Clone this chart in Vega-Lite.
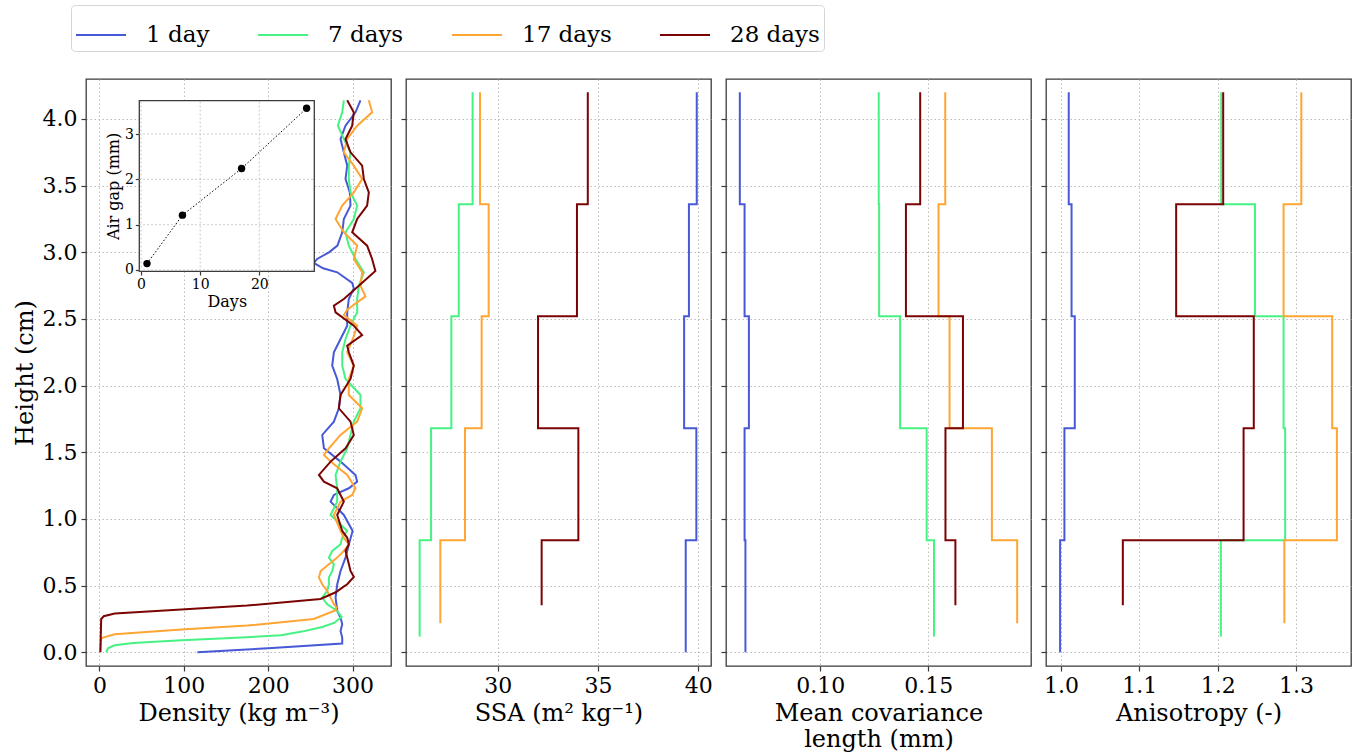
{
  "$schema": "https://vega.github.io/schema/vega-lite/v6.json",
  "padding": {"left": 12, "top": 4, "right": 5, "bottom": 0},
  "background": "white",
  "bounds": "flush",
  "spacing": 15,
  "datasets": {
    "dens": [
      {"s": "1 day", "h": 0, "v": 116}, {"s": "1 day", "h": 0.03, "v": 200}, {"s": "1 day", "h": 0.065, "v": 287.7}, {"s": "1 day", "h": 0.11, "v": 287.7},
      {"s": "1 day", "h": 0.16, "v": 285.7}, {"s": "1 day", "h": 0.21, "v": 287.7}, {"s": "1 day", "h": 0.26, "v": 285.7}, {"s": "1 day", "h": 0.31, "v": 281.8},
      {"s": "1 day", "h": 0.41, "v": 279.8}, {"s": "1 day", "h": 0.51, "v": 281.8}, {"s": "1 day", "h": 0.61, "v": 285.7}, {"s": "1 day", "h": 0.71, "v": 291.6},
      {"s": "1 day", "h": 0.81, "v": 295.6}, {"s": "1 day", "h": 0.91, "v": 300}, {"s": "1 day", "h": 1.03, "v": 289.6}, {"s": "1 day", "h": 1.13, "v": 273.9},
      {"s": "1 day", "h": 1.18, "v": 277.8}, {"s": "1 day", "h": 1.23, "v": 295.5}, {"s": "1 day", "h": 1.28, "v": 305.4}, {"s": "1 day", "h": 1.33, "v": 303.4},
      {"s": "1 day", "h": 1.43, "v": 285.7}, {"s": "1 day", "h": 1.53, "v": 266}, {"s": "1 day", "h": 1.63, "v": 264}, {"s": "1 day", "h": 1.73, "v": 277.8},
      {"s": "1 day", "h": 1.83, "v": 283.7}, {"s": "1 day", "h": 1.93, "v": 285.7}, {"s": "1 day", "h": 2.05, "v": 281.7}, {"s": "1 day", "h": 2.15, "v": 275.8},
      {"s": "1 day", "h": 2.25, "v": 277.8}, {"s": "1 day", "h": 2.35, "v": 285.7}, {"s": "1 day", "h": 2.45, "v": 293.6}, {"s": "1 day", "h": 2.55, "v": 293.6},
      {"s": "1 day", "h": 2.65, "v": 295.5}, {"s": "1 day", "h": 2.73, "v": 301.4}, {"s": "1 day", "h": 2.77, "v": 299.5}, {"s": "1 day", "h": 2.85, "v": 281.8},
      {"s": "1 day", "h": 2.88, "v": 265}, {"s": "1 day", "h": 2.92, "v": 254}, {"s": "1 day", "h": 2.95, "v": 258}, {"s": "1 day", "h": 3.0, "v": 272},
      {"s": "1 day", "h": 3.05, "v": 282}, {"s": "1 day", "h": 3.15, "v": 287.7}, {"s": "1 day", "h": 3.25, "v": 289.6}, {"s": "1 day", "h": 3.35, "v": 297.5},
      {"s": "1 day", "h": 3.45, "v": 296.7}, {"s": "1 day", "h": 3.55, "v": 291.6}, {"s": "1 day", "h": 3.65, "v": 293.6}, {"s": "1 day", "h": 3.75, "v": 289.6},
      {"s": "1 day", "h": 3.85, "v": 285.7}, {"s": "1 day", "h": 3.95, "v": 291.6}, {"s": "1 day", "h": 4.05, "v": 303.4}, {"s": "1 day", "h": 4.14, "v": 309.3},

      {"s": "7 days", "h": 0, "v": 8}, {"s": "7 days", "h": 0.03, "v": 10}, {"s": "7 days", "h": 0.0525, "v": 18}, {"s": "7 days", "h": 0.07, "v": 40},
      {"s": "7 days", "h": 0.09, "v": 97}, {"s": "7 days", "h": 0.105, "v": 150}, {"s": "7 days", "h": 0.127, "v": 215}, {"s": "7 days", "h": 0.155, "v": 240},
      {"s": "7 days", "h": 0.19, "v": 264}, {"s": "7 days", "h": 0.22, "v": 278}, {"s": "7 days", "h": 0.265, "v": 287}, {"s": "7 days", "h": 0.31, "v": 281.8},
      {"s": "7 days", "h": 0.36, "v": 269.9}, {"s": "7 days", "h": 0.41, "v": 264}, {"s": "7 days", "h": 0.46, "v": 269.9}, {"s": "7 days", "h": 0.51, "v": 271.9},
      {"s": "7 days", "h": 0.56, "v": 271.9}, {"s": "7 days", "h": 0.61, "v": 275.9}, {"s": "7 days", "h": 0.66, "v": 277.8}, {"s": "7 days", "h": 0.71, "v": 271.9},
      {"s": "7 days", "h": 0.76, "v": 275.9}, {"s": "7 days", "h": 0.81, "v": 285.7}, {"s": "7 days", "h": 0.86, "v": 287.7}, {"s": "7 days", "h": 0.91, "v": 293.6},
      {"s": "7 days", "h": 1.03, "v": 273.9}, {"s": "7 days", "h": 1.13, "v": 281.7}, {"s": "7 days", "h": 1.23, "v": 281.7}, {"s": "7 days", "h": 1.33, "v": 279.8},
      {"s": "7 days", "h": 1.43, "v": 285.7}, {"s": "7 days", "h": 1.53, "v": 293.6}, {"s": "7 days", "h": 1.63, "v": 297.5}, {"s": "7 days", "h": 1.73, "v": 301.4},
      {"s": "7 days", "h": 1.83, "v": 309.3}, {"s": "7 days", "h": 1.93, "v": 309.3}, {"s": "7 days", "h": 2.05, "v": 291.6}, {"s": "7 days", "h": 2.15, "v": 287.7},
      {"s": "7 days", "h": 2.25, "v": 287.7}, {"s": "7 days", "h": 2.35, "v": 291.6}, {"s": "7 days", "h": 2.45, "v": 297.5}, {"s": "7 days", "h": 2.55, "v": 305.4},
      {"s": "7 days", "h": 2.65, "v": 305.4}, {"s": "7 days", "h": 2.75, "v": 307.4}, {"s": "7 days", "h": 2.85, "v": 313.3}, {"s": "7 days", "h": 2.95, "v": 303.4},
      {"s": "7 days", "h": 3.05, "v": 295.5}, {"s": "7 days", "h": 3.15, "v": 291.6}, {"s": "7 days", "h": 3.25, "v": 301.4}, {"s": "7 days", "h": 3.35, "v": 305.4},
      {"s": "7 days", "h": 3.45, "v": 297.5}, {"s": "7 days", "h": 3.55, "v": 295.5}, {"s": "7 days", "h": 3.65, "v": 295.5}, {"s": "7 days", "h": 3.75, "v": 297.5},
      {"s": "7 days", "h": 3.85, "v": 289.6}, {"s": "7 days", "h": 3.95, "v": 282.5}, {"s": "7 days", "h": 4.05, "v": 287.7}, {"s": "7 days", "h": 4.14, "v": 289.6},

      {"s": "17 days", "h": 0, "v": 1}, {"s": "17 days", "h": 0.1, "v": 2}, {"s": "17 days", "h": 0.11, "v": 4}, {"s": "17 days", "h": 0.135, "v": 18},
      {"s": "17 days", "h": 0.17, "v": 97}, {"s": "17 days", "h": 0.2, "v": 175}, {"s": "17 days", "h": 0.25, "v": 254}, {"s": "17 days", "h": 0.315, "v": 280},
      {"s": "17 days", "h": 0.34, "v": 280.6}, {"s": "17 days", "h": 0.36, "v": 277.8}, {"s": "17 days", "h": 0.41, "v": 273.9}, {"s": "17 days", "h": 0.46, "v": 269.9},
      {"s": "17 days", "h": 0.51, "v": 264}, {"s": "17 days", "h": 0.56, "v": 260.1}, {"s": "17 days", "h": 0.61, "v": 262.1}, {"s": "17 days", "h": 0.66, "v": 271.9},
      {"s": "17 days", "h": 0.71, "v": 281.8}, {"s": "17 days", "h": 0.76, "v": 289.6}, {"s": "17 days", "h": 0.81, "v": 295.6}, {"s": "17 days", "h": 0.86, "v": 289.6},
      {"s": "17 days", "h": 0.91, "v": 285.7}, {"s": "17 days", "h": 1.03, "v": 277.8}, {"s": "17 days", "h": 1.13, "v": 285.7}, {"s": "17 days", "h": 1.18, "v": 299.5},
      {"s": "17 days", "h": 1.23, "v": 303.4}, {"s": "17 days", "h": 1.33, "v": 293.6}, {"s": "17 days", "h": 1.43, "v": 273.9}, {"s": "17 days", "h": 1.48, "v": 266},
      {"s": "17 days", "h": 1.53, "v": 271.9}, {"s": "17 days", "h": 1.63, "v": 285.7}, {"s": "17 days", "h": 1.73, "v": 305.4}, {"s": "17 days", "h": 1.83, "v": 311.3},
      {"s": "17 days", "h": 1.93, "v": 295.5}, {"s": "17 days", "h": 2.05, "v": 295.5}, {"s": "17 days", "h": 2.15, "v": 301.4}, {"s": "17 days", "h": 2.25, "v": 293.6},
      {"s": "17 days", "h": 2.37, "v": 301.4}, {"s": "17 days", "h": 2.45, "v": 305.4}, {"s": "17 days", "h": 2.53, "v": 289.6}, {"s": "17 days", "h": 2.57, "v": 293.6},
      {"s": "17 days", "h": 2.67, "v": 315.2}, {"s": "17 days", "h": 2.75, "v": 309.3}, {"s": "17 days", "h": 2.85, "v": 311.3}, {"s": "17 days", "h": 2.95, "v": 301.4},
      {"s": "17 days", "h": 3.05, "v": 305.4}, {"s": "17 days", "h": 3.15, "v": 289.6}, {"s": "17 days", "h": 3.25, "v": 279.8}, {"s": "17 days", "h": 3.35, "v": 287.7},
      {"s": "17 days", "h": 3.45, "v": 301.4}, {"s": "17 days", "h": 3.55, "v": 311.3}, {"s": "17 days", "h": 3.65, "v": 301.4}, {"s": "17 days", "h": 3.75, "v": 289.6},
      {"s": "17 days", "h": 3.85, "v": 293.6}, {"s": "17 days", "h": 3.95, "v": 305.4}, {"s": "17 days", "h": 4.05, "v": 323.1}, {"s": "17 days", "h": 4.14, "v": 319.2},

      {"s": "28 days", "h": 0, "v": 1}, {"s": "28 days", "h": 0.25, "v": 2}, {"s": "28 days", "h": 0.27, "v": 5}, {"s": "28 days", "h": 0.29, "v": 18},
      {"s": "28 days", "h": 0.32, "v": 97}, {"s": "28 days", "h": 0.35, "v": 175}, {"s": "28 days", "h": 0.4, "v": 262}, {"s": "28 days", "h": 0.45, "v": 280},
      {"s": "28 days", "h": 0.49, "v": 289}, {"s": "28 days", "h": 0.51, "v": 293.6}, {"s": "28 days", "h": 0.565, "v": 301.5}, {"s": "28 days", "h": 0.61, "v": 297.5},
      {"s": "28 days", "h": 0.66, "v": 295.6}, {"s": "28 days", "h": 0.71, "v": 293.6}, {"s": "28 days", "h": 0.76, "v": 291.6}, {"s": "28 days", "h": 0.81, "v": 295.6},
      {"s": "28 days", "h": 0.86, "v": 293.6}, {"s": "28 days", "h": 0.91, "v": 287.7}, {"s": "28 days", "h": 1.03, "v": 281.7}, {"s": "28 days", "h": 1.13, "v": 289.6},
      {"s": "28 days", "h": 1.23, "v": 281.7}, {"s": "28 days", "h": 1.28, "v": 266}, {"s": "28 days", "h": 1.33, "v": 260.1}, {"s": "28 days", "h": 1.43, "v": 273.9},
      {"s": "28 days", "h": 1.53, "v": 291.6}, {"s": "28 days", "h": 1.63, "v": 301.4}, {"s": "28 days", "h": 1.73, "v": 297.5}, {"s": "28 days", "h": 1.83, "v": 283.7},
      {"s": "28 days", "h": 1.93, "v": 285.7}, {"s": "28 days", "h": 2.05, "v": 297.5}, {"s": "28 days", "h": 2.15, "v": 301.4}, {"s": "28 days", "h": 2.25, "v": 295.5},
      {"s": "28 days", "h": 2.3, "v": 293.6}, {"s": "28 days", "h": 2.38, "v": 311.3}, {"s": "28 days", "h": 2.45, "v": 301.4}, {"s": "28 days", "h": 2.55, "v": 279.8},
      {"s": "28 days", "h": 2.6, "v": 277.8}, {"s": "28 days", "h": 2.65, "v": 289.6}, {"s": "28 days", "h": 2.75, "v": 307.4}, {"s": "28 days", "h": 2.86, "v": 327},
      {"s": "28 days", "h": 2.95, "v": 323.1}, {"s": "28 days", "h": 3.05, "v": 317.2}, {"s": "28 days", "h": 3.15, "v": 299.5}, {"s": "28 days", "h": 3.25, "v": 305.4},
      {"s": "28 days", "h": 3.35, "v": 317.2}, {"s": "28 days", "h": 3.45, "v": 319.2}, {"s": "28 days", "h": 3.55, "v": 313.3}, {"s": "28 days", "h": 3.65, "v": 311.3},
      {"s": "28 days", "h": 3.75, "v": 297.5}, {"s": "28 days", "h": 3.85, "v": 291.6}, {"s": "28 days", "h": 3.95, "v": 299.5}, {"s": "28 days", "h": 4.05, "v": 301.4},
      {"s": "28 days", "h": 4.14, "v": 293.6}
    ],
    "ssa": [
      {"s": "1 day", "h": 0, "v": 39.37}, {"s": "1 day", "h": 0.84, "v": 39.9}, {"s": "1 day", "h": 1.68, "v": 39.29}, {"s": "1 day", "h": 2.52, "v": 39.53}, {"s": "1 day", "h": 3.36, "v": 39.92}, {"s": "1 day", "h": 4.2, "v": 39.92},
      {"s": "7 days", "h": 0.118, "v": 26.11}, {"s": "7 days", "h": 0.84, "v": 26.68}, {"s": "7 days", "h": 1.68, "v": 27.69}, {"s": "7 days", "h": 2.52, "v": 28.06}, {"s": "7 days", "h": 3.36, "v": 28.75}, {"s": "7 days", "h": 4.2, "v": 28.75},
      {"s": "17 days", "h": 0.218, "v": 27.14}, {"s": "17 days", "h": 0.84, "v": 28.37}, {"s": "17 days", "h": 1.68, "v": 29.2}, {"s": "17 days", "h": 2.52, "v": 29.55}, {"s": "17 days", "h": 3.36, "v": 29.12}, {"s": "17 days", "h": 4.2, "v": 29.12},
      {"s": "28 days", "h": 0.353, "v": 32.19}, {"s": "28 days", "h": 0.84, "v": 34.02}, {"s": "28 days", "h": 1.68, "v": 32.01}, {"s": "28 days", "h": 2.52, "v": 33.95}, {"s": "28 days", "h": 3.36, "v": 34.49}, {"s": "28 days", "h": 4.2, "v": 34.49}
    ],
    "mcl": [
      {"s": "1 day", "h": 0, "v": 0.0654}, {"s": "1 day", "h": 0.84, "v": 0.065}, {"s": "1 day", "h": 1.68, "v": 0.067}, {"s": "1 day", "h": 2.52, "v": 0.065}, {"s": "1 day", "h": 3.36, "v": 0.0628}, {"s": "1 day", "h": 4.2, "v": 0.0628},
      {"s": "7 days", "h": 0.118, "v": 0.1527}, {"s": "7 days", "h": 0.84, "v": 0.1493}, {"s": "7 days", "h": 1.68, "v": 0.137}, {"s": "7 days", "h": 2.52, "v": 0.1273}, {"s": "7 days", "h": 3.36, "v": 0.1271}, {"s": "7 days", "h": 4.2, "v": 0.1271},
      {"s": "17 days", "h": 0.218, "v": 0.1912}, {"s": "17 days", "h": 0.84, "v": 0.1795}, {"s": "17 days", "h": 1.68, "v": 0.1599}, {"s": "17 days", "h": 2.52, "v": 0.1548}, {"s": "17 days", "h": 3.36, "v": 0.1579}, {"s": "17 days", "h": 4.2, "v": 0.1579},
      {"s": "28 days", "h": 0.353, "v": 0.1626}, {"s": "28 days", "h": 0.84, "v": 0.158}, {"s": "28 days", "h": 1.68, "v": 0.1661}, {"s": "28 days", "h": 2.52, "v": 0.1397}, {"s": "28 days", "h": 3.36, "v": 0.1463}, {"s": "28 days", "h": 4.2, "v": 0.1463}
    ],
    "ani": [
      {"s": "1 day", "h": 0, "v": 0.999}, {"s": "1 day", "h": 0.84, "v": 1.0045}, {"s": "1 day", "h": 1.68, "v": 1.0177}, {"s": "1 day", "h": 2.52, "v": 1.0136}, {"s": "1 day", "h": 3.36, "v": 1.01}, {"s": "1 day", "h": 4.2, "v": 1.01},
      {"s": "7 days", "h": 0.118, "v": 1.204}, {"s": "7 days", "h": 0.84, "v": 1.286}, {"s": "7 days", "h": 1.68, "v": 1.284}, {"s": "7 days", "h": 2.52, "v": 1.2475}, {"s": "7 days", "h": 3.36, "v": 1.2045}, {"s": "7 days", "h": 4.2, "v": 1.2045},
      {"s": "17 days", "h": 0.218, "v": 1.285}, {"s": "17 days", "h": 0.84, "v": 1.352}, {"s": "17 days", "h": 1.68, "v": 1.346}, {"s": "17 days", "h": 2.52, "v": 1.284}, {"s": "17 days", "h": 3.36, "v": 1.3066}, {"s": "17 days", "h": 4.2, "v": 1.3066},
      {"s": "28 days", "h": 0.353, "v": 1.079}, {"s": "28 days", "h": 0.84, "v": 1.233}, {"s": "28 days", "h": 1.68, "v": 1.246}, {"s": "28 days", "h": 2.52, "v": 1.147}, {"s": "28 days", "h": 3.36, "v": 1.207}, {"s": "28 days", "h": 4.2, "v": 1.207}
    ],
    "gap": [
      {"day": 1, "gap": 0.14}, {"day": 7, "gap": 1.21}, {"day": 17, "gap": 2.24}, {"day": 28, "gap": 3.57}
    ]
  },
  "hconcat": [
    {
      "width": 305,
      "height": 587,
      "layer": [
        {
          "data": {"name": "dens"},
          "mark": {"type": "line", "strokeWidth": 2},
          "encoding": {
            "x": {"field": "v", "type": "quantitative", "scale": {"domain": [-16, 345.5], "nice": false, "zero": false},
                  "axis": {"title": "Density (kg m⁻³)", "values": [0, 100, 200, 300]}},
            "y": {"field": "h", "type": "quantitative", "scale": {"domain": [-0.103, 4.3], "nice": false, "zero": false},
                  "axis": {"title": "Height (cm)", "values": [0, 0.5, 1, 1.5, 2, 2.5, 3, 3.5, 4], "format": ".1f"}},
            "color": {"field": "s", "type": "nominal", "legend": {"title": null},
                      "scale": {"domain": ["1 day", "7 days", "17 days", "28 days"], "range": ["#4759d6", "#45f283", "#ffa533", "#7a0403"]}},
            "order": {"field": "h", "type": "quantitative"}
          }
        },
        {
          "layer": [
            {
              "data": {"values": [{}]},
              "mark": {"type": "rect", "fill": "white", "stroke": "#3a3a3a", "strokeWidth": 1.3},
              "encoding": {
                "x": {"datum": -0.3, "type": "quantitative", "scale": {"domain": [-0.3, 29.3], "range": [53.3, 228.3], "nice": false, "zero": false},
                      "axis": {"orient": "bottom", "offset": -395, "values": [0, 10, 20], "format": "d", "title": "Days", "labelFontSize": 14, "titleFontSize": 16, "tickSize": 4, "grid": false, "titlePadding": 2, "labelPadding": 2}},
                "x2": {"datum": 29.3},
                "y": {"datum": -0.03, "type": "quantitative", "scale": {"domain": [-0.03, 3.74], "range": [192.3, 21.6], "nice": false, "zero": false},
                      "axis": {"orient": "left", "offset": -53.3, "values": [0, 1, 2, 3], "format": "d", "title": "Air gap (mm)", "labelFontSize": 14, "titleFontSize": 16, "tickSize": 4, "grid": false, "titlePadding": 3, "labelPadding": 2}},
                "y2": {"datum": 3.74}
              }
            },
            {
              "data": {"values": [{"d": 0}, {"d": 10}, {"d": 20}]},
              "mark": {"type": "rule", "color": "#b5b5b5", "strokeDash": [1.5, 2.5], "strokeWidth": 0.9},
              "encoding": {
                "x": {"field": "d", "type": "quantitative"},
                "y": {"datum": -0.03, "type": "quantitative"},
                "y2": {"datum": 3.74}
              }
            },
            {
              "data": {"values": [{"g": 0}, {"g": 1}, {"g": 2}, {"g": 3}]},
              "mark": {"type": "rule", "color": "#b5b5b5", "strokeDash": [1.5, 2.5], "strokeWidth": 0.9},
              "encoding": {
                "y": {"field": "g", "type": "quantitative"},
                "x": {"datum": -0.3, "type": "quantitative"},
                "x2": {"datum": 29.3}
              }
            },
            {
              "data": {"name": "gap"},
              "mark": {"type": "line", "color": "black", "strokeWidth": 1, "strokeDash": [1.5, 2]},
              "encoding": {
                "x": {"field": "day", "type": "quantitative"},
                "y": {"field": "gap", "type": "quantitative"}
              }
            },
            {
              "data": {"name": "gap"},
              "mark": {"type": "circle", "color": "black", "size": 55, "opacity": 1},
              "encoding": {
                "x": {"field": "day", "type": "quantitative"},
                "y": {"field": "gap", "type": "quantitative"}
              }
            }
          ]
        }
      ],
      "resolve": {"scale": {"x": "independent", "y": "independent"}, "axis": {"x": "independent", "y": "independent"}}
    },
    {
      "width": 305,
      "height": 587,
      "data": {"name": "ssa"},
      "mark": {"type": "line", "strokeWidth": 2, "interpolate": "step-before"},
      "encoding": {
        "x": {"field": "v", "type": "quantitative", "scale": {"domain": [25.43, 40.63], "nice": false, "zero": false},
              "axis": {"title": "SSA (m² kg⁻¹)", "values": [30, 35, 40]}},
        "y": {"field": "h", "type": "quantitative", "scale": {"domain": [-0.103, 4.3], "nice": false, "zero": false},
              "axis": {"title": null, "labels": false, "values": [0, 0.5, 1, 1.5, 2, 2.5, 3, 3.5, 4]}},
        "color": {"field": "s", "type": "nominal", "legend": {"title": null},
                  "scale": {"domain": ["1 day", "7 days", "17 days", "28 days"], "range": ["#4759d6", "#45f283", "#ffa533", "#7a0403"]}},
        "order": {"field": "h", "type": "quantitative"}
      }
    },
    {
      "width": 305,
      "height": 587,
      "data": {"name": "mcl"},
      "mark": {"type": "line", "strokeWidth": 2, "interpolate": "step-before"},
      "encoding": {
        "x": {"field": "v", "type": "quantitative", "scale": {"domain": [0.0564, 0.1976], "nice": false, "zero": false},
              "axis": {"title": ["Mean covariance", "length (mm)"], "values": [0.1, 0.15], "format": ".2f"}},
        "y": {"field": "h", "type": "quantitative", "scale": {"domain": [-0.103, 4.3], "nice": false, "zero": false},
              "axis": {"title": null, "labels": false, "values": [0, 0.5, 1, 1.5, 2, 2.5, 3, 3.5, 4]}},
        "color": {"field": "s", "type": "nominal", "legend": {"title": null},
                  "scale": {"domain": ["1 day", "7 days", "17 days", "28 days"], "range": ["#4759d6", "#45f283", "#ffa533", "#7a0403"]}},
        "order": {"field": "h", "type": "quantitative"}
      }
    },
    {
      "width": 305,
      "height": 587,
      "data": {"name": "ani"},
      "mark": {"type": "line", "strokeWidth": 2, "interpolate": "step-before"},
      "encoding": {
        "x": {"field": "v", "type": "quantitative", "scale": {"domain": [0.981, 1.37], "nice": false, "zero": false},
              "axis": {"title": "Anisotropy (-)", "values": [1.0, 1.1, 1.2, 1.3], "format": ".1f"}},
        "y": {"field": "h", "type": "quantitative", "scale": {"domain": [-0.103, 4.3], "nice": false, "zero": false},
              "axis": {"title": null, "labels": false, "values": [0, 0.5, 1, 1.5, 2, 2.5, 3, 3.5, 4]}},
        "color": {"field": "s", "type": "nominal", "legend": {"title": null},
                  "scale": {"domain": ["1 day", "7 days", "17 days", "28 days"], "range": ["#4759d6", "#45f283", "#ffa533", "#7a0403"]}},
        "order": {"field": "h", "type": "quantitative"}
      }
    }
  ],
  "config": {
    "font": "DejaVu Serif",
    "view": {"stroke": "#3a3a3a", "strokeWidth": 1.3},
    "axis": {
      "domain": false,
      "tickColor": "#3a3a3a",
      "tickSize": 5,
      "tickWidth": 1.2,
      "labelFontSize": 22,
      "labelColor": "black",
      "labelPadding": 4,
      "labelFlush": false,
      "titleFontSize": 24,
      "titleFontWeight": "normal",
      "titleColor": "black",
      "gridColor": "#b5b5b5",
      "gridDash": [1.5, 2.5],
      "gridWidth": 0.9
    },
    "axisX": {"titlePadding": 5},
    "axisY": {"titlePadding": 5},
    "legend": {
      "orient": "none",
      "legendX": -15,
      "legendY": -74,
      "direction": "horizontal",
      "symbolType": "stroke",
      "symbolSize": 2500,
      "symbolStrokeWidth": 2,
      "labelFontSize": 23,
      "labelColor": "black",
      "labelOffset": 19,
      "columnPadding": 44,
      "padding": 4,
      "strokeColor": "#d5d5d5",
      "cornerRadius": 4,
      "fillColor": "white"
    }
  }
}
